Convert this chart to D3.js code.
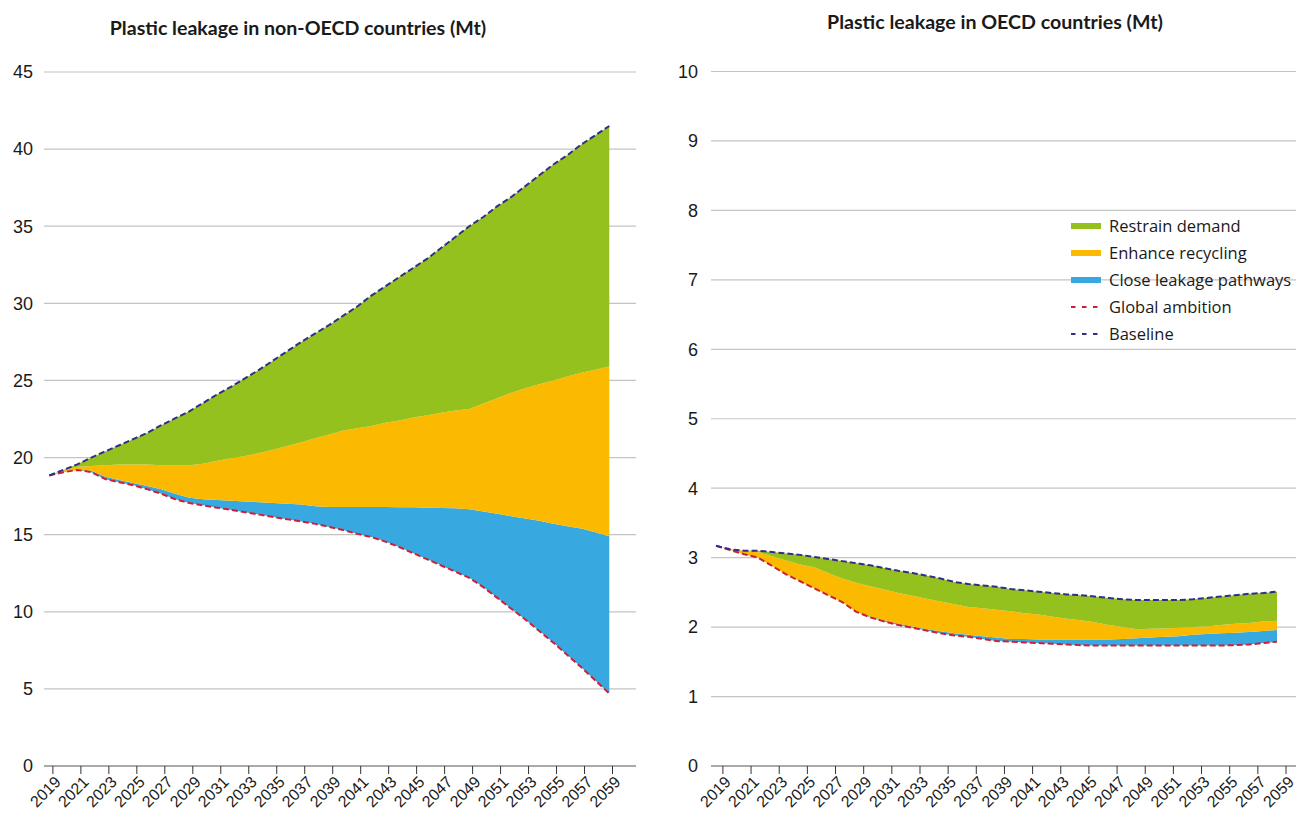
<!DOCTYPE html>
<html><head><meta charset="utf-8">
<script src="https://cdn.jsdelivr.net/npm/d3@7"></script>
<style>body{margin:0;background:#fff}svg{display:block}</style>
</head><body>
<svg id="chart" width="1296" height="816"></svg>
<script>
// ---------- DATA ----------
const years = [2019,2020,2021,2022,2023,2024,2025,2026,2027,2028,2029,2030,2031,2032,2033,2034,2035,2036,2037,2038,2039,
               2040,2041,2042,2043,2044,2045,2046,2047,2048,2049,2050,2051,2052,2053,2054,2055,2056,2057,2058,2059];
const yearTickLabels = ["2019","2021","2023","2025","2027","2029","2031","2033","2035","2037","2039",
                        "2041","2043","2045","2047","2049","2051","2053","2055","2057","2059"];
const nonOecdYTicks = [0,5,10,15,20,25,30,35,40,45];
const oecdYTicks = [0,1,2,3,4,5,6,7,8,9,10];
const seriesNames = ["Restrain demand","Enhance recycling","Close leakage pathways","Global ambition","Baseline"];

// non-OECD (Mt): leakage level after each successive policy
const nonOecdBaseline = [18.84,19.2,19.56,20.0,20.4,20.8,21.2,21.6,22.1,22.55,23.0,23.55,24.1,24.6,25.15,25.7,26.3,26.9,27.5,28.05,28.6,
                         29.2,29.8,30.5,31.1,31.7,32.3,32.9,33.6,34.3,35.0,35.6,36.3,36.9,37.6,38.3,39.0,39.6,40.3,40.9,41.5];
const nonOecdRestrain = [18.84,19.15,19.4,19.45,19.5,19.55,19.55,19.55,19.5,19.5,19.5,19.6,19.8,19.95,20.1,20.3,20.5,20.75,21.0,21.25,21.5,
                         21.75,21.9,22.05,22.25,22.4,22.6,22.75,22.9,23.05,23.15,23.5,23.85,24.2,24.5,24.75,25.0,25.25,25.5,25.7,25.9];
const nonOecdRecycling = [18.84,19.05,19.2,19.15,18.75,18.55,18.35,18.15,17.95,17.65,17.4,17.3,17.25,17.2,17.15,17.1,17.05,17.0,16.95,16.85,16.8,
                          16.8,16.8,16.8,16.8,16.78,16.77,16.75,16.73,16.71,16.65,16.5,16.35,16.2,16.05,15.9,15.7,15.55,15.4,15.15,14.9];
const nonOecdAmbition = [18.84,19.05,19.2,19.05,18.6,18.4,18.2,17.95,17.65,17.3,17.05,16.9,16.75,16.6,16.45,16.3,16.15,16.0,15.85,15.7,15.5,
                         15.3,15.05,14.85,14.55,14.2,13.8,13.4,13.0,12.6,12.2,11.6,10.9,10.2,9.5,8.75,8.0,7.2,6.4,5.55,4.7];

// OECD (Mt)
const oecdBaseline = [3.17,3.12,3.10,3.10,3.08,3.06,3.04,3.01,2.98,2.95,2.92,2.89,2.85,2.81,2.78,2.74,2.70,2.65,2.62,2.60,2.58,
                      2.55,2.53,2.51,2.49,2.47,2.46,2.44,2.42,2.40,2.39,2.39,2.39,2.39,2.40,2.42,2.44,2.46,2.48,2.49,2.51];
const oecdRestrain = [3.17,3.12,3.10,3.08,3.02,2.96,2.90,2.86,2.78,2.70,2.64,2.59,2.54,2.49,2.45,2.41,2.37,2.33,2.29,2.27,2.25,
                      2.23,2.20,2.18,2.15,2.12,2.10,2.07,2.03,2.00,1.97,1.975,1.98,1.99,2.00,2.01,2.03,2.05,2.06,2.08,2.09];
const oecdRecycling = [3.17,3.11,3.05,3.00,2.88,2.76,2.66,2.56,2.46,2.36,2.22,2.15,2.10,2.05,2.01,1.97,1.94,1.91,1.89,1.87,1.85,
                       1.83,1.83,1.82,1.82,1.82,1.82,1.82,1.82,1.83,1.84,1.85,1.86,1.87,1.89,1.90,1.91,1.92,1.93,1.945,1.96];
const oecdAmbition = [3.17,3.11,3.05,3.00,2.88,2.76,2.66,2.56,2.46,2.36,2.22,2.14,2.08,2.03,1.99,1.95,1.91,1.88,1.86,1.83,1.80,
                      1.79,1.78,1.77,1.76,1.75,1.74,1.735,1.735,1.735,1.735,1.735,1.735,1.735,1.735,1.735,1.735,1.74,1.75,1.77,1.79];

// ---------- STYLE ----------
const C = {green:"#95C11F", orange:"#FBB900", blue:"#38A9E0", red:"#CF1F36", navy:"#302E8A",
           grid:"#C4C4C4", axis:"#8E8E8E", tick:"#333", text:"#1a1a1a"};

const svg = d3.select("#chart");

function panel(cfg){
  const g = svg.append("g");
  const rows = years.map((yr,i)=>({yr, base:cfg.base[i], rest:cfg.rest[i], rec:cfg.rec[i], amb:cfg.amb[i]}));
  const x = d3.scaleLinear().domain([years[0], years[years.length-1]]).range(cfg.xRange);
  const xAxisScale = d3.scaleLinear().domain([years[0], years[years.length-1]]).range(cfg.axisRange);
  const y = d3.scaleLinear().domain([0, cfg.yMax]).range(cfg.yRange);

  // grid
  g.selectAll("line.grid").data(cfg.yTicks.filter(t=>t>0)).join("line")
    .attr("x1", cfg.gridX[0]).attr("x2", cfg.gridX[1])
    .attr("y1", d=>y(d)).attr("y2", d=>y(d))
    .attr("stroke", C.grid).attr("stroke-width", 1.2);

  // y labels
  g.selectAll("text.yl").data(cfg.yTicks).join("text")
    .attr("x", cfg.yLabelX).attr("y", d=>y(d)).attr("dy","0.35em")
    .attr("text-anchor","end").attr("font-family","Liberation Sans, Arial, sans-serif")
    .attr("font-size",18).attr("fill",C.text).text(d=>d);

  // areas
  const mk = (lo,hi)=>d3.area().x(d=>x(d.yr)).y0(d=>y(d[lo])).y1(d=>y(d[hi]));
  g.append("path").datum(rows).attr("d", mk("amb","rec")).attr("fill", C.blue);
  g.append("path").datum(rows).attr("d", mk("rec","rest")).attr("fill", C.orange);
  g.append("path").datum(rows).attr("d", mk("rest","base")).attr("fill", C.green);

  // dashed lines
  const ln = k=>d3.line().x(d=>x(d.yr)).y(d=>y(d[k]));
  g.append("path").datum(rows).attr("d", ln("amb")).attr("fill","none")
    .attr("stroke",C.red).attr("stroke-width",2).attr("stroke-dasharray","6,3");
  g.append("path").datum(rows).attr("d", ln("base")).attr("fill","none")
    .attr("stroke",C.navy).attr("stroke-width",2).attr("stroke-dasharray","6,3");

  // x axis
  g.append("line").attr("x1",cfg.gridX[0]).attr("x2",cfg.gridX[1])
    .attr("y1",y(0)).attr("y2",y(0)).attr("stroke",C.axis).attr("stroke-width",1.5);
  const tickYears = yearTickLabels.map(Number);
  g.selectAll("line.tk").data(tickYears).join("line")
    .attr("x1",d=>xAxisScale(d)).attr("x2",d=>xAxisScale(d))
    .attr("y1",y(0)).attr("y2",y(0)+8).attr("stroke",C.tick).attr("stroke-width",1);
  g.selectAll("text.xl").data(yearTickLabels).join("text")
    .attr("transform",d=>`translate(${xAxisScale(+d)+5},${y(0)+13}) rotate(-45)`)
    .attr("text-anchor","end").attr("dy","0.35em")
    .attr("font-family","Liberation Sans, Arial, sans-serif").attr("font-size",16)
    .attr("fill",C.text).text(d=>d);

  // title
  g.append("text").attr("x",cfg.titleX).attr("y",cfg.titleY).attr("text-anchor","middle")
    .attr("font-family","Lato, sans-serif").attr("font-weight","bold").attr("font-size",19.6)
    .attr("fill",C.text).text(cfg.title);
}

panel({title:"Plastic leakage in non-OECD countries (Mt)", titleX:298, titleY:35,
  base:nonOecdBaseline, rest:nonOecdRestrain, rec:nonOecdRecycling, amb:nonOecdAmbition,
  xRange:[49.3,609.3], axisRange:[52.9,612.5], yMax:45, yRange:[766,72], yTicks:nonOecdYTicks,
  gridX:[44,636], yLabelX:33});

panel({title:"Plastic leakage in OECD countries (Mt)", titleX:995, titleY:29,
  base:oecdBaseline, rest:oecdRestrain, rec:oecdRecycling, amb:oecdAmbition,
  xRange:[716,1277], axisRange:[722.9,1286], yMax:10, yRange:[766,71.5], yTicks:oecdYTicks,
  gridX:[711,1296], yLabelX:698});

// legend
const legend = svg.append("g").attr("transform","translate(1071,226)");
const legendItems = [
  {name:seriesNames[0], type:"rect", color:C.green},
  {name:seriesNames[1], type:"rect", color:C.orange},
  {name:seriesNames[2], type:"rect", color:C.blue},
  {name:seriesNames[3], type:"dash", color:C.red},
  {name:seriesNames[4], type:"dash", color:C.navy}];
const li = legend.selectAll("g").data(legendItems).join("g")
  .attr("transform",(d,i)=>`translate(0,${i*27})`);
li.filter(d=>d.type==="rect").append("rect").attr("x",0).attr("y",-3).attr("width",30).attr("height",6).attr("fill",d=>d.color);
li.filter(d=>d.type==="dash").append("line").attr("x1",0).attr("x2",30).attr("y1",0).attr("y2",0)
  .attr("stroke",d=>d.color).attr("stroke-width",2).attr("stroke-dasharray","4.5,6.5");
li.append("text").attr("x",38).attr("y",0).attr("dy","0.35em")
  .attr("font-family","Open Sans, Noto Sans, sans-serif").attr("font-size",16.5).attr("fill",C.text)
  .text(d=>d.name);
</script>
</body></html>
